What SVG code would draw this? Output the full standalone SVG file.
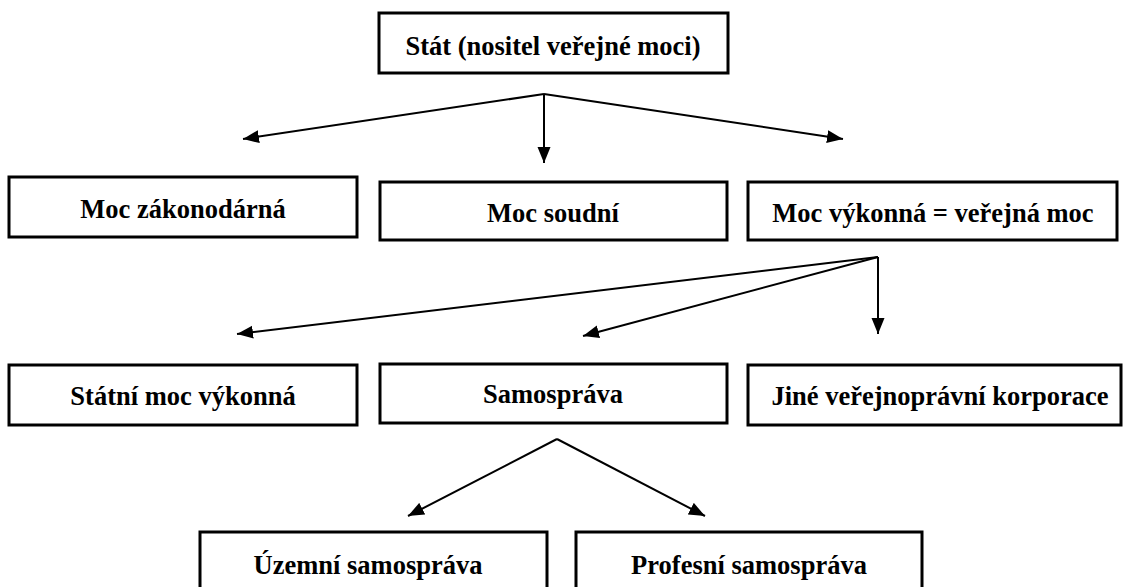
<svg xmlns="http://www.w3.org/2000/svg" width="1125" height="587" viewBox="0 0 1125 587">
<style>
.box{fill:#fff;stroke:#000;stroke-width:3}
.lbl{font-family:'Liberation Serif','Times New Roman','DejaVu Serif',serif;font-weight:700;font-size:26.5px;fill:#000;text-anchor:middle}
.con{fill:none;stroke:#000;stroke-width:2}
</style>
<defs>
<marker id="ah" markerUnits="userSpaceOnUse" markerWidth="17" markerHeight="14" refX="16" refY="7" orient="auto">
<path d="M0,0.5 L16,7 L0,13.5 z" fill="#000"/>
</marker>
</defs>
<rect width="1125" height="587" fill="#fff"/>
<g id="connectors">
<line class="con" x1="544" y1="94" x2="243" y2="139" marker-end="url(#ah)"/>
<line class="con" x1="544" y1="94" x2="843" y2="139" marker-end="url(#ah)"/>
<line class="con" x1="544" y1="94" x2="544" y2="163" marker-end="url(#ah)"/>
<line class="con" x1="878" y1="257" x2="237" y2="334" marker-end="url(#ah)"/>
<line class="con" x1="878" y1="257" x2="583" y2="336" marker-end="url(#ah)"/>
<line class="con" x1="878" y1="257" x2="878" y2="334" marker-end="url(#ah)"/>
<line class="con" x1="557" y1="439" x2="408" y2="516" marker-end="url(#ah)"/>
<line class="con" x1="557" y1="439" x2="705" y2="516" marker-end="url(#ah)"/>
</g>
<g id="stat"><rect class="box" x="379" y="13" width="349" height="60"/><text class="lbl" x="553" y="55" font-family="Liberation Serif, serif">Stát (nositel veřejné moci)</text></g>
<g id="zakonodarna"><rect class="box" x="9" y="177" width="348" height="60"/><text class="lbl" x="183" y="218">Moc zákonodárná</text></g>
<g id="soudni"><rect class="box" x="380" y="182" width="347" height="58"/><text class="lbl" x="553" y="222">Moc soudní</text></g>
<g id="vykonna"><rect class="box" x="748" y="182" width="369" height="58"/><text class="lbl" x="933" y="222">Moc výkonná = veřejná moc</text></g>
<g id="statni"><rect class="box" x="9" y="365" width="348" height="60"/><text class="lbl" x="183" y="405">Státní moc výkonná</text></g>
<g id="samosprava"><rect class="box" x="380" y="364" width="347" height="59"/><text class="lbl" x="553" y="403">Samospráva</text></g>
<g id="jine"><rect class="box" x="748" y="365" width="373" height="60"/><text class="lbl" x="940" y="405">Jiné veřejnoprávní korporace</text></g>
<g id="uzemni"><rect class="box" x="200" y="532" width="347" height="70"/><text class="lbl" x="368" y="574">Územní samospráva</text></g>
<g id="profesni"><rect class="box" x="576" y="532" width="346" height="70"/><text class="lbl" x="749" y="574">Profesní samospráva</text></g>
</svg>
